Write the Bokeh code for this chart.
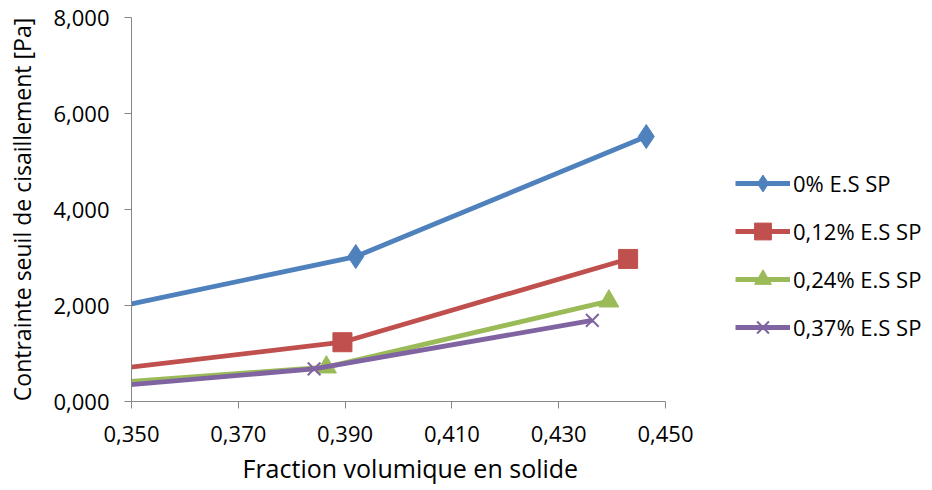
from bokeh.plotting import figure
from bokeh.models import Range1d, FixedTicker, CustomJSTickFormatter, Legend, LegendItem, Title
from bokeh.embed import file_html
from bokeh.resources import INLINE

# Data (x = solid volume fraction, y = yield stress [Pa])
x_0 = [0.335, 0.392, 0.4464]
y_0 = [1.68, 3.02, 5.52]
x_012 = [0.335, 0.3895, 0.443]
y_012 = [0.52, 1.235, 2.97]
x_024 = [0.335, 0.3865, 0.4394]
y_024 = [0.30, 0.715, 2.09]
x_037 = [0.335, 0.3842, 0.4363]
y_037 = [0.21, 0.68, 1.69]
labels = ["0% E.S SP", "0,12% E.S SP", "0,24% E.S SP", "0,37% E.S SP"]
colors = ["#4F81BD", "#C0504D", "#9BBB59", "#8064A2"]
x_ticks = [0.35, 0.37, 0.39, 0.41, 0.43, 0.45]
y_ticks = [0, 2, 4, 6, 8]
x_title = "Fraction volumique en solide"
y_title = "Contrainte seuil de cisaillement [Pa]"

FONT = "Open Sans"

# frame spans the right side too (room for the legend); the x axis line stops at 0.45
p = figure(width=932, height=490, output_backend="svg", toolbar_location=None,
           x_range=Range1d(0.35, 0.50), y_range=Range1d(0, 8),
           min_border_left=131, min_border_right=0, min_border_top=17, min_border_bottom=89)
p.outline_line_color = None
p.xgrid.visible = False
p.ygrid.visible = False

fmt = CustomJSTickFormatter(code="return tick.toFixed(3).replace('.', ',');")
for ax, ticks in ((p.xaxis[0], x_ticks), (p.yaxis[0], y_ticks)):
    ax.ticker = FixedTicker(ticks=ticks)
    ax.formatter = fmt
    ax.axis_line_color = "#868686"
    ax.axis_line_width = 1
    ax.major_tick_line_color = "#868686"
    ax.major_tick_out = 7
    ax.major_tick_in = 0
    ax.minor_tick_line_color = None
    ax.major_label_text_font = FONT
    ax.major_label_text_font_size = "22px"
    ax.major_label_text_color = "#000000"
    ax.axis_label_text_font = FONT
    ax.axis_label_text_font_style = "normal"
    ax.axis_label_text_color = "#000000"

p.xaxis[0].bounds = (0.35, 0.45)
p.yaxis[0].axis_label = y_title
p.yaxis[0].axis_label_text_font_size = "23px"
p.xaxis[0].major_label_standoff = 17
p.yaxis[0].major_label_standoff = 15
p.yaxis[0].axis_label_standoff = 12

# x axis title, centred under the axis (0.35 - 0.45) rather than the whole frame
xt = Title(text=x_title, align="left", offset=111, text_font=FONT, text_font_size="25px",
           text_font_style="normal", text_color="#000000", standoff=9)
p.add_layout(xt, "below")

series = [(x_0, y_0), (x_012, y_012), (x_024, y_024), (x_037, y_037)]
markers = ["diamond", "square", "triangle", "x"]
sizes = [24, 19, 20, 18]
items = []
for (xs, ys), lab, col, mk, sz in zip(series, labels, colors, markers, sizes):
    ln = p.line(xs, ys, line_color=col, line_width=4.8)
    if mk == "x":
        sc = p.scatter(xs, ys, marker=mk, size=sz, line_color=col, line_width=2)
    else:
        sc = p.scatter(xs, ys, marker=mk, size=sz, fill_color=col, line_color=col)
    items.append(LegendItem(label=lab, renderers=[ln, sc]))

legend = Legend(items=items, location=(604, 53), padding=0, margin=0,
                border_line_color=None, background_fill_alpha=0,
                glyph_width=55, glyph_height=42, label_height=42, spacing=6,
                label_standoff=3, label_text_font=FONT, label_text_font_size="22px",
                label_text_color="#000000")
p.add_layout(legend, "center")

open("out.html", "w").write(file_html(p, INLINE))
